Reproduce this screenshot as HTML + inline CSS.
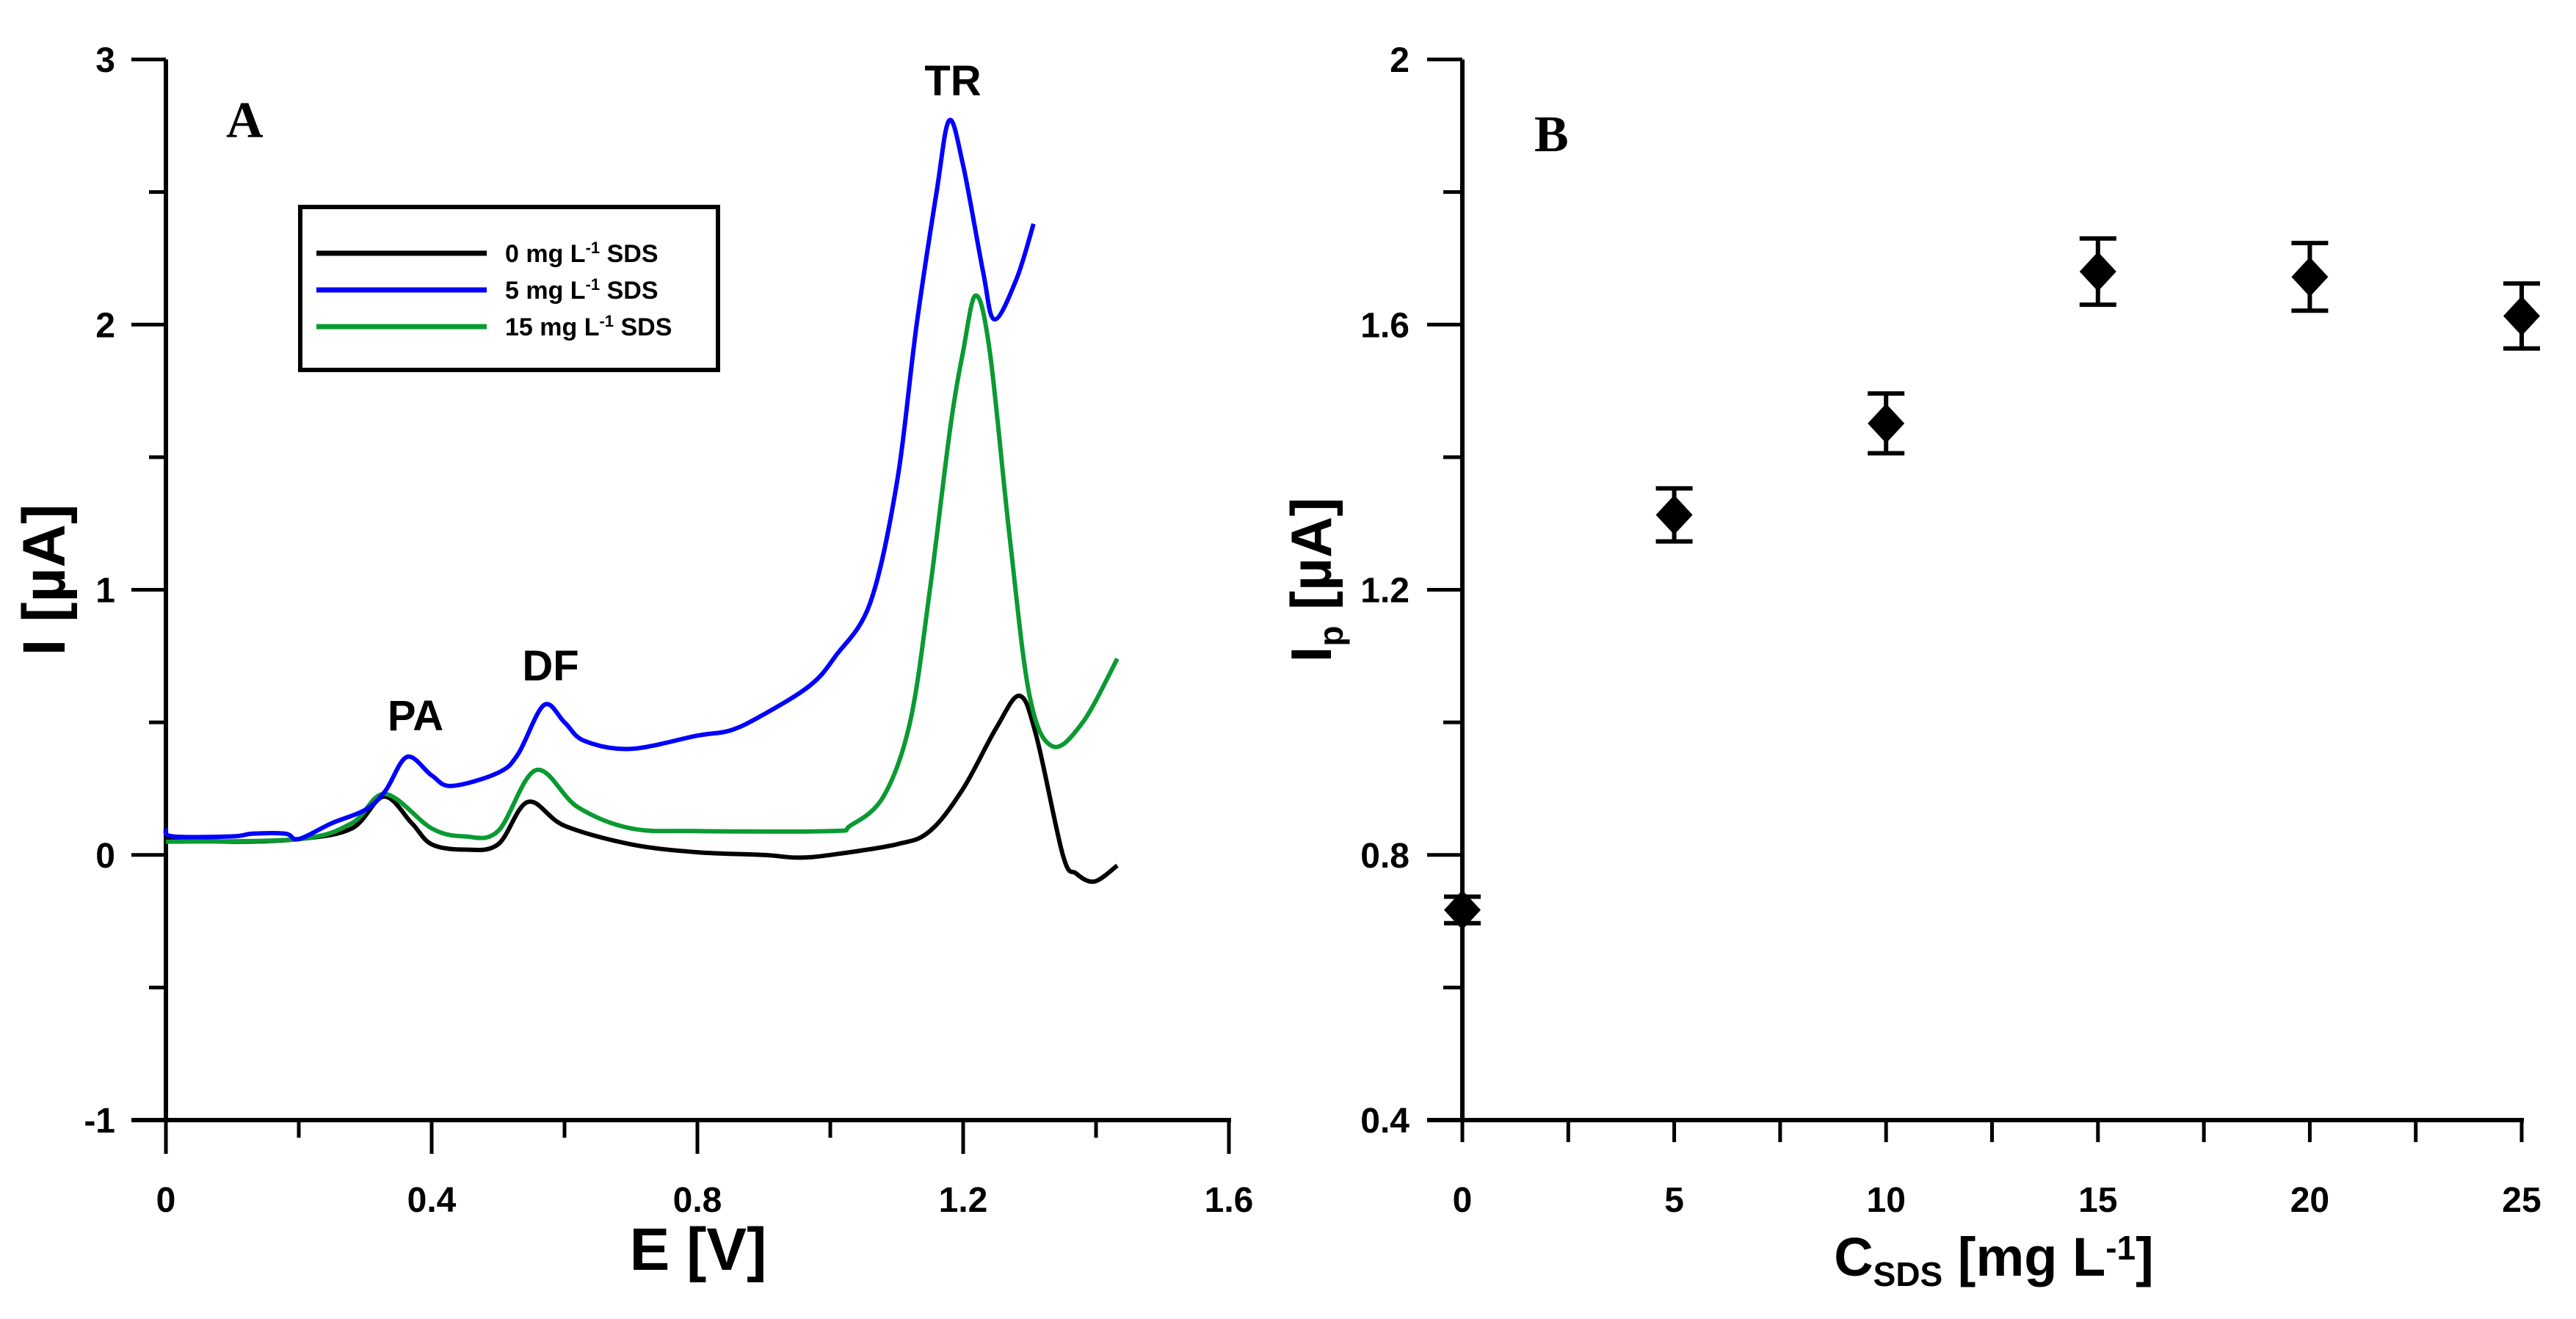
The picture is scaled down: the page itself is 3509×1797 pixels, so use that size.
<!DOCTYPE html>
<html><head><meta charset="utf-8"><style>
html,body{margin:0;padding:0;background:#fff;}
svg{display:block;}
text{font-family:"Liberation Sans",Arial,sans-serif;font-weight:bold;fill:#000;}
.serif{font-family:"Liberation Serif","Times New Roman",serif;}
</style></head><body>
<svg id="chart" width="3509" height="1797" viewBox="0 0 3509 1797" xmlns="http://www.w3.org/2000/svg">
<g id="A"></g>
<g id="B"></g>
</svg>
<script>
// Panel A data
const blackE = [0,0.1,0.2,0.28,0.328,0.37,0.4,0.45,0.5,0.545,0.6,0.7,0.8,0.9,0.95,1.0,1.1,1.15,1.2,1.25,1.285,1.31,1.35,1.37,1.398,1.432];
const blackI = [0.06,0.05,0.06,0.1,0.22,0.12,0.04,0.02,0.04,0.20,0.11,0.04,0.01,0.0,-0.01,0.0,0.04,0.09,0.25,0.48,0.60,0.45,0.0,-0.07,-0.10,-0.04];
const greenE = [0,0.2,0.28,0.33,0.4,0.45,0.5,0.557,0.62,0.7,0.8,1.0,1.03,1.08,1.12,1.15,1.18,1.2,1.219,1.24,1.27,1.3,1.334,1.38,1.432];
const greenI = [0.05,0.06,0.12,0.23,0.1,0.07,0.09,0.32,0.18,0.1,0.09,0.09,0.11,0.22,0.5,1.0,1.6,1.9,2.11,1.9,1.2,0.6,0.41,0.5,0.74];
const blueE = [0,0.01,0.1,0.13,0.18,0.2,0.25,0.3,0.33,0.363,0.4,0.43,0.5,0.53,0.569,0.6,0.63,0.7,0.8,0.85,0.9,0.97,1.008,1.06,1.1,1.13,1.16,1.179,1.2,1.23,1.247,1.28,1.306];
const blueI = [0.1,0.07,0.07,0.08,0.08,0.06,0.12,0.17,0.24,0.37,0.3,0.26,0.31,0.38,0.565,0.5,0.43,0.4,0.45,0.47,0.53,0.64,0.75,0.95,1.4,2.0,2.5,2.77,2.6,2.2,2.02,2.17,2.38];
const aXTicks = ["0","0.4","0.8","1.2","1.6"];
const aYTicks = ["-1","0","1","2","3"];
// Panel B data
const conc = [0,5,10,15,20,25];
const ip = [0.717,1.313,1.451,1.68,1.672,1.613];
const ipErr = [0.02,0.04,0.045,0.05,0.051,0.049];
const bXTicks = ["0","5","10","15","20","25"];
const bYTicks = ["0.4","0.8","1.2","1.6","2"];

const NS="http://www.w3.org/2000/svg";
function mk(parent,tag,attrs,txt){const e=document.createElementNS(NS,tag);for(const k in attrs)e.setAttribute(k,attrs[k]);if(txt!==undefined)e.textContent=txt;parent.appendChild(e);return e;}

// ---- Panel A ----
const A=document.getElementById('A');
const ax0=226, ax1=1674, ay0=1526, ay1=81;
const xA=v=>ax0+(v-0)/(1.6)*(ax1-ax0);
const yA=v=>ay0-(v-(-1))/4*(ay0-ay1);
let e;
e=mk(A,'line',{x1:ax0,y1:ay1,x2:ax0,y2:ay0+3,stroke:'#000','stroke-width':6});


e=mk(A,'line',{x1:179,y1:ay0,x2:ax1+3,y2:ay0,stroke:'#000','stroke-width':6});


for(let i=0;i<=8;i++){const v=-1+i*0.5;const y=yA(v);const major=i%2===0;
 e=mk(A,'line',{x1:major?179:203,y1:y,x2:ax0,y2:y,stroke:'#000','stroke-width':5});
 
 }
aYTicks.forEach((t,i)=>{e=mk(A,'text',{x:157,y:yA(Number(t))+17,'text-anchor':'end','font-size':48},t);
 
 });
for(let i=0;i<=8;i++){const v=i*0.2;const x=xA(v);const major=i%2===0;
 e=mk(A,'line',{x1:x,y1:ay0,x2:x,y2:major?1572:1550,stroke:'#000','stroke-width':5});
 
 }
aXTicks.forEach(t=>{e=mk(A,'text',{x:xA(Number(t)),y:1651,'text-anchor':'middle','font-size':48},t);
 
 });
e=mk(A,'text',{x:951,y:1730,'text-anchor':'middle','font-size':82},'E [V]');


e=mk(A,'text',{x:0,y:0,'text-anchor':'middle','font-size':82,transform:'translate(88,790) rotate(-90)'},'I [µA]');


function path(E,I){
 const P=E.map((v,i)=>[xA(v),yA(I[i])]);
 let d='M'+P[0][0].toFixed(1)+' '+P[0][1].toFixed(1);
 for(let i=0;i<P.length-1;i++){
  const p0=P[Math.max(0,i-1)],p1=P[i],p2=P[i+1],p3=P[Math.min(P.length-1,i+2)];
  const c1=[p1[0]+(p2[0]-p0[0])/6,p1[1]+(p2[1]-p0[1])/6];
  const c2=[p2[0]-(p3[0]-p1[0])/6,p2[1]-(p3[1]-p1[1])/6];
  d+=` C${c1[0].toFixed(1)} ${c1[1].toFixed(1)} ${c2[0].toFixed(1)} ${c2[1].toFixed(1)} ${p2[0].toFixed(1)} ${p2[1].toFixed(1)}`;
 }
 return d;}
e=mk(A,'path',{d:path(blackE,blackI),fill:'none',stroke:'#000','stroke-width':6,'stroke-linejoin':'round'});


e=mk(A,'path',{d:path(greenE,greenI),fill:'none',stroke:'#0a9a32','stroke-width':6,'stroke-linejoin':'round'});


e=mk(A,'path',{d:path(blueE,blueI),fill:'none',stroke:'#0000ff','stroke-width':6,'stroke-linejoin':'round'});


e=mk(A,'text',{x:308,y:187,'font-size':70,class:'serif'},'A');


[['PA',566,995],['DF',750,927],['TR',1298,130]].forEach(p=>{e=mk(A,'text',{x:p[1],y:p[2],'text-anchor':'middle','font-size':58},p[0]);
 
 });
// legend
e=mk(A,'rect',{x:409,y:282,width:569,height:222,fill:'#fff',stroke:'#000','stroke-width':6});


const legNames=['0 mg L','5 mg L','15 mg L'];const legCols=['#000','#0000ff','#0a9a32'];const legY=[345,395,445];
legNames.forEach((n,i)=>{
 e=mk(A,'line',{x1:431,y1:legY[i],x2:663,y2:legY[i],stroke:legCols[i],'stroke-width':7});
 
 
 const t=mk(A,'text',{x:688,y:legY[i]+12,'font-size':34});
 
 
 mk(t,'tspan',{},n);mk(t,'tspan',{dy:-12,'font-size':22},'-1');mk(t,'tspan',{dy:12},' SDS');
});

// ---- Panel B ----
const B=document.getElementById('B');
const bx0=1992,bx1=3435,by0=1526,by1=81;
const xB=v=>bx0+v/25*(bx1-bx0);
const yB=v=>by0-(v-0.4)/1.6*(by0-by1);
e=mk(B,'line',{x1:bx0,y1:by1,x2:bx0,y2:by0+3,stroke:'#000','stroke-width':6});


e=mk(B,'line',{x1:1944,y1:by0,x2:bx1+3,y2:by0,stroke:'#000','stroke-width':6});


for(let i=0;i<=8;i++){const v=0.4+i*0.2;const y=yB(v);const major=i%2===0;
 e=mk(B,'line',{x1:major?1944:1966,y1:y,x2:bx0,y2:y,stroke:'#000','stroke-width':5});
 
 }
bYTicks.forEach(t=>{e=mk(B,'text',{x:1920,y:yB(Number(t))+17,'text-anchor':'end','font-size':48},t);
 
 });
for(let i=0;i<=10;i++){const x=xB(i*2.5);
 e=mk(B,'line',{x1:x,y1:by0,x2:x,y2:1556,stroke:'#000','stroke-width':5});
 
 }
bXTicks.forEach(t=>{e=mk(B,'text',{x:xB(Number(t)),y:1651,'text-anchor':'middle','font-size':48},t);
 
 });
let xt=mk(B,'text',{x:2716,y:1738,'text-anchor':'middle','font-size':74});


mk(xt,'tspan',{},'C');mk(xt,'tspan',{dy:14,'font-size':46},'SDS');mk(xt,'tspan',{dy:-14},' [mg L');mk(xt,'tspan',{dy:-22,'font-size':46},'-1');mk(xt,'tspan',{dy:22},']');
let yt=mk(B,'text',{x:0,y:0,'text-anchor':'middle','font-size':78,transform:'translate(1813,790) rotate(-90)'});


mk(yt,'tspan',{},'I');mk(yt,'tspan',{dy:16,'font-size':46},'p');mk(yt,'tspan',{dy:-16},' [µA]');
e=mk(B,'text',{x:2090,y:206,'font-size':70,class:'serif'},'B');


conc.forEach((c,i)=>{const x=xB(c),y=yB(ip[i]),yt_=yB(ip[i]+ipErr[i]),yb=yB(ip[i]-ipErr[i]);
 const g=mk(B,'g',{});
 
 
 mk(g,'path',{d:`M${x} ${yt_}L${x} ${yb}M${x-25} ${yt_}L${x+25} ${yt_}M${x-25} ${yb}L${x+25} ${yb}`,stroke:'#000','stroke-width':6,fill:'none'});
 mk(g,'path',{d:`M${x} ${y-27}L${x+25} ${y}L${x} ${y+27}L${x-25} ${y}Z`,fill:'#000'});
});
</script>
</body></html>
